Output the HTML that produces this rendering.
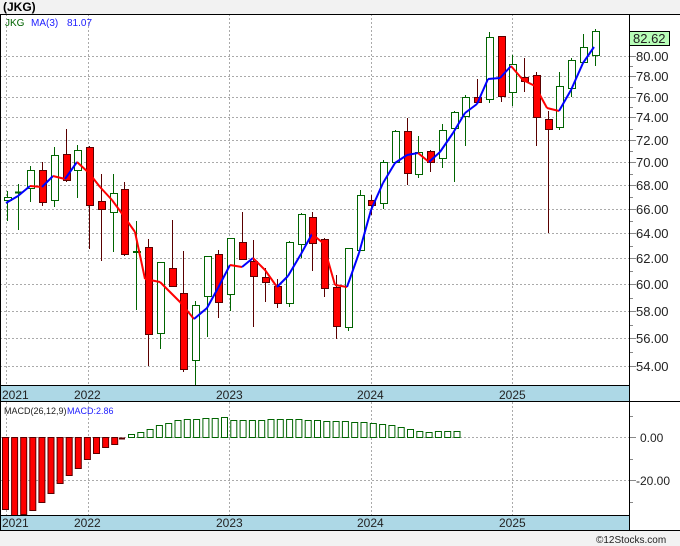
<!DOCTYPE html>
<html><head><meta charset="utf-8"><style>
html,body{margin:0;padding:0;background:#f2f2f2;}
svg{display:block;font-family:"Liberation Sans",sans-serif;}
</style></head><body>
<svg id="c" width="680" height="546" xmlns="http://www.w3.org/2000/svg"></svg>
<script>
var s='';
function R(x,y,w,h,f,st){s+='<rect x="'+x+'" y="'+y+'" width="'+w+'" height="'+h+'" fill="'+f+'"'+(st?' stroke="'+st+'" stroke-width="1"':'')+'/>';}
function L(x1,y1,x2,y2,c,w,d){s+='<line x1="'+x1+'" y1="'+y1+'" x2="'+x2+'" y2="'+y2+'" stroke="'+c+'" stroke-width="'+(w||1)+'"'+(d?' stroke-dasharray="'+d+'"':'')+'/>';}
function T(x,y,t,c,sz,extra){s+='<text x="'+x+'" y="'+y+'" fill="'+c+'" font-size="'+sz+'" '+(extra||'')+'>'+t+'</text>';}
R(0,14,680,516,'#fff');
R(0,385,629,17,'#add8e6');R(0,515,629,15,'#add8e6');
var pl=[[80,56],[78,76],[76,97],[74,117],[72,140],[70,162],[68,185],[66,209],[64,233],[62,258],[60,284],[58,311],[56,338],[54,366]];
pl.forEach(function(p){L(0,p[1]+.5,629,p[1]+.5,'#aaa',1,'2,2');L(629,p[1]+.5,636,p[1]+.5,'#888');T(636,p[1]+5,p[0].toFixed(2),'#222',13);});
for(var i=0;i<pl.length-1;i++){var m=Math.round((pl[i][1]+pl[i+1][1])/2)+.5;L(629,m,633,m,'#888');}
[6.5,88.5,229.5,371.5,512.5].forEach(function(x){L(x,14,x,385,'#aaa',1,'2,2');L(x,402,x,515,'#aaa',1,'2,2');});
[[2,'2021'],[74,'2022'],[216,'2023'],[357,'2024'],[499,'2025']].forEach(function(a){T(a[0],399,a[1],'#222',12);T(a[0],527,a[1],'#222',12);});
var cd=[[7,200,197,191,221],[18,192,192,184,230],[30,188,170,166,202],[42,170,202,162,206],[54,200,155,147,207],[66,154,180,129,182],[77,170,150,145,198],[89,147,205,146,249],[101,201,209,174,261],[113,212,193,174,252],[124,189,254,182,256],[136,252,251,221,310],[148,247,334,239,366],[160,333,262,262,349],[172,268,286,220,287],[183,293,369,251,372],[195,360,305,301,386],[207,296,256,256,337],[218,254,302,250,318],[230,294,238,238,311],[242,242,259,212,260],[253,261,276,240,327],[265,277,282,268,302],[277,286,303,279,308],[289,303,242,241,307],[301,244,214,213,258],[312,217,243,212,271],[324,239,288,238,297],[336,287,326,275,339],[348,327,248,248,331],[360,250,195,190,251],[371,200,205,195,215],[383,203,162,160,209],[395,162,131,130,163],[407,131,173,118,185],[418,174,152,136,178],[430,151,162,150,172],[442,158,130,124,168],[454,128,112,111,182],[465,116,97,95,146],[477,97,102,79,103],[489,99,37,32,103],[501,36,96,36,102],[512,92,64,55,106],[524,77,81,58,92],[536,75,117,72,146],[548,119,129,111,233],[559,127,86,72,130],[571,88,60,58,97],[583,62,47,34,63],[595,55,31,29,66]];
cd.forEach(function(c){var up=c[2]<c[1]||(c[1]==c[2]);var t=Math.min(c[1],c[2]),b=Math.max(c[1],c[2]);
 var col=up?'#006400':'#5a0000';L(c[0]+.5,c[3],c[0]+.5,c[4],col);
 if(b-t<1){L(c[0]-3,t+.5,c[0]+4,t+.5,col,2);}
 else R(c[0]-3+.5,t+.5,7,b-t,up?'#fff':'#f00',col);});
var ma=[[6,203],[18,196],[30,186],[42,187],[53,176],[65,179],[77,162],[89,173],[100,187],[112,200],[123,215],[135,232],[145,279],[160,282],[180,302],[194,319],[207,308],[218,288],[230,265],[242,267],[253,258],[265,270],[277,287],[288,276],[301,254],[312,234],[323,243],[335,285],[347,287],[359,253],[371,210],[383,183],[395,163],[407,155],[418,153],[429,162],[440,152],[453,133],[465,113],[477,104],[488,79],[500,78],[511,66],[523,80],[535,86],[547,108],[559,111],[571,90],[583,63],[594,47]];
for(var i=0;i<ma.length-1;i++){L(ma[i][0],ma[i][1],ma[i+1][0],ma[i+1][1],ma[i+1][1]>ma[i][1]?'#f00':'#00f',2);}
T(5,26,'JKG','#006400',10);T(31,26,'MA(3)','#2020ff',10);T(67,26,'81.07','#2020ff',10);
R(629.5,31.5,40,14,'#b8ffb8','#000');T(633,43,'82.62','#222',13);
L(0,437.5,629,437.5,'#aaa',1,'2,2');L(0,480.5,629,480.5,'#aaa',1,'2,2');
L(629,437.5,636,437.5,'#888');L(629,480.5,636,480.5,'#888');
[416,459,502].forEach(function(y){L(629,y+.5,633,y+.5,'#888');});
T(640,442,'0.00','#222',12);T(636,485,'-20.00','#222',12);
var rb=[509,515,514,510,502,493,483,475,468,459,453,447,444];
rb.forEach(function(b,i){var x=5+i*9.1;R(x-2.5,437.5,6,b-437,'#f00','#5a0000');});
L(119,438.5,125,438.5,'#5a0000',2);
var gt=[434,432,429,425,423,420,419,419,418,418,417,420,420,420,420,419,419,419,419,420,420,421,421,421,422,422,423,424,425,427,429,431,432,431,431,431];
gt.forEach(function(t,i){var x=131+i*9.3;R(x-3+.5,t+.5,6,437-t,'#fff','#006400');});
T(4,414,'MACD(26,12,9)','#222',9);T(67,414,'MACD:2.86','#2020ff',9);
L(0,14.5,680,14.5,'#000');L(0.5,14,0.5,530,'#000');L(629.5,14,629.5,530,'#000');
L(0,385.5,629,385.5,'#000');L(0,401.5,680,401.5,'#000');L(0,515.5,629,515.5,'#000');L(0,530.5,680,530.5,'#000');
T(3,11,'(JKG)','#000',12,'font-weight="bold"');
T(596,543,'©12Stocks.com','#222',10);
document.getElementById('c').innerHTML=s;
</script>
</body></html>
